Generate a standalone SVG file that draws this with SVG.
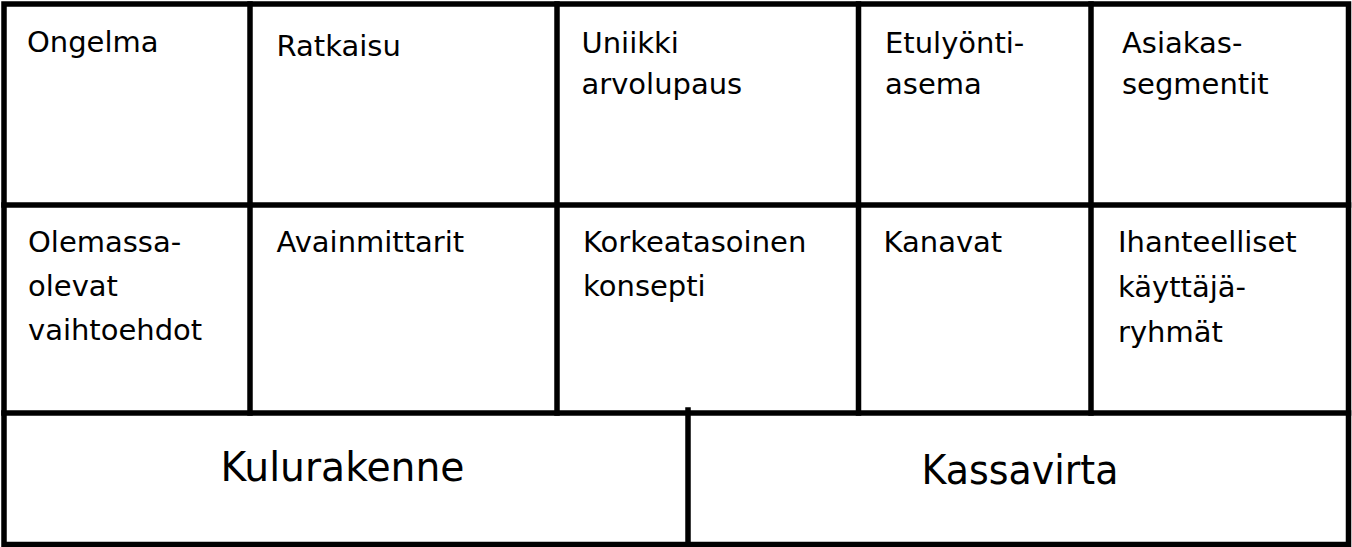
<svg xmlns="http://www.w3.org/2000/svg" width="1352" height="547" viewBox="0 0 1352 547">
<style>
.bg{fill:#ffffff}
.ln{stroke:#000000;stroke-width:5.5;fill:none;stroke-linecap:square}
.t{font-family:"DejaVu Sans","Liberation Sans",sans-serif;font-size:29px;fill:#000000}
.big{font-family:"DejaVu Sans","Liberation Sans",sans-serif;font-size:40px;fill:#000000}
</style>
<rect class="bg" x="0" y="0" width="1352" height="547"/>
<g id="connectors">
<path class="ln" d="M4 4 H1348.5 V544.5 H4 Z"/>
<path class="ln" d="M4 205 H1348.5"/>
<path class="ln" d="M4 413 H1348.5"/>
<path class="ln" d="M250 4 V413"/>
<path class="ln" d="M557 4 V413"/>
<path class="ln" d="M858.5 4 V413"/>
<path class="ln" d="M1091 4 V413"/>
<path class="ln" d="M688 410 V544.5"/>
</g>
<g id="ongelma"><text class="t" x="27" y="52">Ongelma</text></g>
<g id="ratkaisu"><text class="t" x="276.5" y="56">Ratkaisu</text></g>
<g id="arvolupaus"><text class="t" x="581.5" y="53">Uniikki</text><text class="t" x="581.5" y="94">arvolupaus</text></g>
<g id="etulyontiasema"><text class="t" x="885" y="53">Etulyönti-</text><text class="t" x="885" y="94">asema</text></g>
<g id="asiakassegmentit"><text class="t" x="1122" y="53">Asiakas-</text><text class="t" x="1122" y="94">segmentit</text></g>
<g id="vaihtoehdot"><text class="t" x="28" y="252">Olemassa-</text><text class="t" x="28" y="296">olevat</text><text class="t" x="28" y="340">vaihtoehdot</text></g>
<g id="avainmittarit"><text class="t" x="276.5" y="252">Avainmittarit</text></g>
<g id="konsepti"><text class="t" x="583" y="252">Korkeatasoinen</text><text class="t" x="583" y="296">konsepti</text></g>
<g id="kanavat"><text class="t" x="883.5" y="252">Kanavat</text></g>
<g id="kayttajaryhmat"><text class="t" x="1118" y="252">Ihanteelliset</text><text class="t" x="1118" y="297">käyttäjä-</text><text class="t" x="1118" y="342">ryhmät</text></g>
<g id="kulurakenne"><text class="big" x="220.5" y="481" textLength="244" lengthAdjust="spacingAndGlyphs">Kulurakenne</text></g>
<g id="kassavirta"><text class="big" x="921.5" y="484" textLength="197" lengthAdjust="spacingAndGlyphs">Kassavirta</text></g>
</svg>
